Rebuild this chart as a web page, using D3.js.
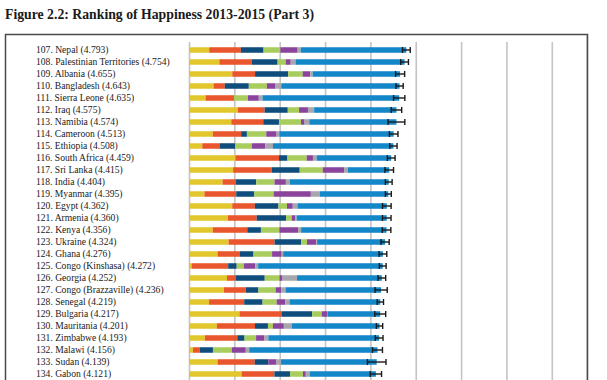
<!DOCTYPE html>
<html>
<head>
<meta charset="utf-8">
<script src="https://cdn.jsdelivr.net/npm/d3@7"></script>
<style>
  html, body { margin: 0; padding: 0; background: #fff; }
  svg { display: block; }
</style>
</head>
<body>
<div id="chart"></div>
<script>
// ---- Data ----
const ranks = [107,108,109,110,111,112,113,114,115,116,117,118,119,120,121,122,123,124,125,126,127,128,129,130,131,132,133,134];
const countries = ["Nepal","Palestinian Territories","Albania","Bangladesh","Sierra Leone","Iraq","Namibia","Cameroon","Ethiopia","South Africa","Sri Lanka","India","Myanmar","Egypt","Armenia","Kenya","Ukraine","Ghana","Congo (Kinshasa)","Georgia","Congo (Brazzaville)","Senegal","Bulgaria","Mauritania","Zimbabwe","Malawi","Sudan","Gabon"];
const scores = [4.793,4.754,4.655,4.643,4.635,4.575,4.574,4.513,4.508,4.459,4.415,4.404,4.395,4.362,4.360,4.356,4.324,4.276,4.272,4.252,4.236,4.219,4.217,4.201,4.193,4.156,4.139,4.121];
const gdp        = [0.446,0.670,0.955,0.542,0.365,1.075,0.933,0.525,0.293,1.024,0.973,0.740,0.341,0.954,0.861,0.523,0.873,0.631,0.057,0.838,0.771,0.443,1.113,0.614,0.350,0.087,0.631,1.159];
const social     = [0.697,0.716,0.502,0.247,0.628,0.592,0.704,0.625,0.379,0.961,0.848,0.292,0.700,0.498,0.632,0.762,1.014,0.494,0.807,0.192,0.478,0.774,0.925,0.841,0.715,0.147,0.819,0.724];
const health     = [0.501,0.568,0.730,0.530,0.000,0.511,0.347,0.127,0.346,0.186,0.620,0.451,0.399,0.521,0.647,0.301,0.586,0.297,0.188,0.640,0.282,0.405,0.678,0.286,0.160,0.294,0.298,0.349];
const freedom    = [0.370,0.177,0.319,0.398,0.307,0.249,0.486,0.427,0.367,0.425,0.508,0.403,0.427,0.188,0.125,0.406,0.129,0.410,0.156,0.325,0.379,0.311,0.212,0.110,0.254,0.414,0.000,0.281];
const generosity = [0.382,0.112,0.168,0.191,0.239,0.196,0.078,0.227,0.295,0.137,0.470,0.250,0.820,0.127,0.081,0.413,0.204,0.212,0.255,0.068,0.121,0.191,0.128,0.240,0.185,0.310,0.181,0.062];
const corruption = [0.070,0.106,0.053,0.126,0.082,0.136,0.104,0.061,0.172,0.084,0.080,0.087,0.202,0.104,0.027,0.067,0.018,0.033,0.061,0.319,0.098,0.092,0.006,0.170,0.086,0.076,0.100,0.093];
const dystopia   = [2.327,2.405,1.928,2.609,3.014,1.816,1.922,2.521,2.656,1.642,0.916,2.181,1.506,1.970,1.987,1.884,1.500,2.199,2.748,1.870,2.107,2.003,1.155,1.940,2.443,2.828,2.110,1.453];
const ciLow  = [4.708,4.669,4.555,4.563,4.510,4.460,4.389,4.418,4.428,4.374,4.320,4.329,4.330,4.267,4.265,4.261,4.234,4.191,4.197,4.167,4.101,4.149,4.097,4.131,4.108,4.046,3.934,3.996];
const ciHigh = [4.878,4.839,4.755,4.723,4.760,4.690,4.759,4.608,4.588,4.544,4.510,4.479,4.460,4.457,4.455,4.451,4.414,4.361,4.347,4.337,4.371,4.289,4.337,4.271,4.278,4.266,4.344,4.246];
const xTicks = [0,1,2,3,4,5,6,7,8];
const title = "Figure 2.2: Ranking of Happiness 2013-2015 (Part 3)";

const seriesKeys = ["gdp","social","health","freedom","generosity","corruption","dystopia"];
const seriesColors = ["#e2c72c","#e9552c","#0f4d7d","#a9cd5c","#8a449b","#a7a7ad","#1487c9"];

// ---- Build table ----
const rows = ranks.map((r, i) => ({
  rank: r, country: countries[i], score: scores[i],
  gdp: gdp[i], social: social[i], health: health[i], freedom: freedom[i],
  generosity: generosity[i], corruption: corruption[i], dystopia: dystopia[i],
  lo: ciLow[i], hi: ciHigh[i]
}));

const W = 607, H = 380;
const svg = d3.select("#chart").append("svg").attr("width", W).attr("height", H)
  .style("background", "#fff");

// title
svg.append("text")
  .attr("x", 5).attr("y", 18.5)
  .attr("font-family", "'Liberation Serif', 'DejaVu Serif', serif")
  .attr("font-weight", "bold")
  .attr("font-size", 15.5)
  .attr("fill", "#1a1a1a")
  .attr("textLength", 309)
  .attr("lengthAdjust", "spacingAndGlyphs")
  .text(title);

// frame
svg.append("rect")
  .attr("x", 5.5).attr("y", 34.5).attr("width", 582).attr("height", 400)
  .attr("fill", "none").attr("stroke", "#4a4a4a").attr("stroke-width", 1.5);
svg.append("line")
  .attr("x1", 586.5).attr("x2", 586.5).attr("y1", 36).attr("y2", 380)
  .attr("stroke", "#b5b5b5").attr("stroke-width", 1);

const x = d3.scaleLinear().domain([0, 8]).range([189, 551.8]);
const y = d3.scaleBand().domain(ranks).range([44, 44 + 12 * ranks.length]).paddingInner(0.54).paddingOuter(0.27);

// gridlines via axis
const grid = svg.append("g")
  .attr("transform", `translate(0, 42)`)
  .call(d3.axisBottom(x).tickValues(xTicks).tickSize(400).tickFormat(""));
grid.select(".domain").remove();
grid.selectAll(".tick line").attr("stroke", "#c4c4c4").attr("stroke-width", 1.6);

// stacked bars
const stack = d3.stack().keys(seriesKeys)(rows);
const color = d3.scaleOrdinal().domain(seriesKeys).range(seriesColors);
svg.append("g").selectAll("g").data(stack).join("g")
  .attr("fill", d => color(d.key))
  .selectAll("rect").data(d => d).join("rect")
  .attr("x", d => x(d[0]))
  .attr("width", d => Math.max(0, x(d[1]) - x(d[0])))
  .attr("y", d => y(d.data.rank))
  .attr("height", y.bandwidth());

// error bars
const eb = svg.append("g").attr("stroke", "#1a1a1a").attr("stroke-width", 1.4);
rows.forEach(d => {
  const cy = y(d.rank) + y.bandwidth() / 2;
  eb.append("line").attr("x1", x(d.lo)).attr("x2", x(d.hi)).attr("y1", cy).attr("y2", cy);
  eb.append("line").attr("x1", x(d.lo)).attr("x2", x(d.lo)).attr("y1", cy - 3).attr("y2", cy + 3);
  eb.append("line").attr("x1", x(d.hi)).attr("x2", x(d.hi)).attr("y1", cy - 3).attr("y2", cy + 3);
});

// labels
const fmt = d3.format(".3f");
svg.append("g").selectAll("text").data(rows).join("text")
  .attr("x", 36)
  .attr("y", d => y(d.rank) + y.bandwidth() / 2 + 3.2)
  .attr("font-family", "'Liberation Serif', 'DejaVu Serif', serif")
  .attr("font-size", 9.6)
  .attr("fill", "#1a1a1a")
  .text(d => `${d.rank}. ${d.country} (${fmt(d.score)})`);
</script>
</body>
</html>
